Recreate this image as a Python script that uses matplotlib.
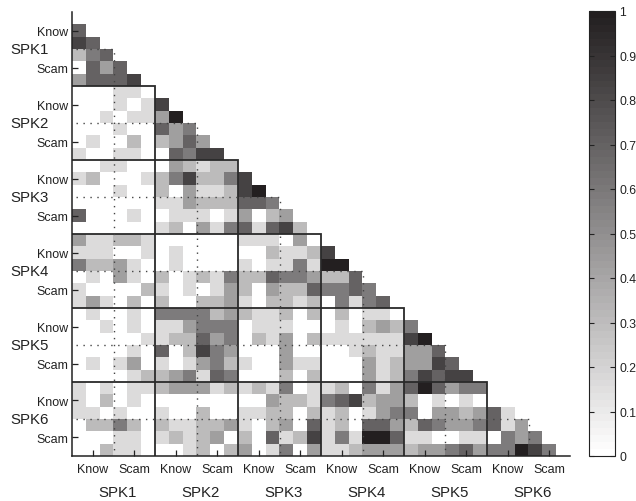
import matplotlib
matplotlib.use('Agg')
import matplotlib.pyplot as plt
import numpy as np
from matplotlib.colors import LinearSegmentedColormap

plt.rcParams['font.family'] = ['Liberation Sans', 'DejaVu Sans']

speakers = ['SPK1', 'SPK2', 'SPK3', 'SPK4', 'SPK5', 'SPK6']
sub_labels = ['Know', 'Scam']
cbar_ticks = [0, 0.1, 0.2, 0.3, 0.4, 0.5, 0.6, 0.7, 0.8, 0.9, 1]
cbar_labels = ['0', '0.1', '0.2', '0.3', '0.4', '0.5', '0.6', '0.7', '0.8', '0.9', '1']

# the cells only come in a few shades, so rows hold an index into this
level_values = [0, 0.16, 0.30, 0.43, 0.58, 0.70, 0.83, 1.0]

rows = [
    [5],
    [6, 5],
    [2, 4, 5],
    [0, 5, 3, 5],
    [3, 5, 5, 5, 6],
    [0, 0, 0, 1, 1, 0],
    [0, 0, 0, 1, 0, 1, 6],
    [0, 0, 1, 0, 1, 1, 3, 7],
    [0, 0, 0, 1, 0, 0, 5, 3, 4],
    [0, 1, 0, 0, 2, 0, 2, 3, 5, 3],
    [1, 0, 0, 1, 1, 0, 0, 5, 4, 6, 6],
    [0, 0, 1, 1, 0, 0, 0, 3, 2, 1, 2, 2],
    [1, 2, 0, 0, 0, 1, 2, 4, 6, 2, 2, 4, 6],
    [0, 0, 0, 1, 0, 0, 2, 0, 3, 1, 1, 2, 6, 7],
    [0, 0, 0, 0, 0, 0, 1, 1, 3, 2, 2, 2, 5, 5, 4],
    [5, 0, 0, 0, 1, 0, 0, 1, 1, 1, 0, 1, 3, 0, 2, 3],
    [0, 0, 0, 0, 0, 0, 1, 2, 0, 3, 1, 4, 5, 1, 5, 6, 2],
    [3, 1, 1, 2, 2, 1, 0, 0, 0, 0, 0, 0, 1, 1, 1, 0, 3, 0],
    [1, 1, 1, 0, 0, 1, 0, 1, 0, 0, 0, 0, 0, 0, 2, 1, 1, 2, 6],
    [4, 2, 2, 3, 1, 0, 0, 1, 0, 0, 0, 0, 1, 0, 1, 1, 4, 1, 7, 7],
    [0, 1, 0, 3, 1, 0, 2, 0, 1, 2, 1, 4, 2, 2, 5, 4, 4, 3, 2, 2, 5],
    [1, 0, 0, 0, 0, 2, 1, 0, 1, 0, 1, 3, 2, 0, 3, 2, 2, 5, 4, 4, 5, 4],
    [1, 3, 1, 0, 2, 0, 2, 0, 0, 2, 2, 3, 1, 0, 2, 2, 1, 2, 0, 4, 1, 4, 5],
    [0, 1, 0, 0, 1, 0, 4, 4, 4, 4, 2, 3, 2, 1, 1, 2, 0, 2, 0, 2, 0, 1, 1, 0],
    [0, 0, 1, 0, 1, 0, 1, 1, 3, 4, 4, 4, 0, 1, 1, 1, 0, 0, 0, 1, 0, 2, 3, 2, 4],
    [0, 0, 0, 0, 0, 1, 1, 2, 2, 5, 3, 4, 0, 2, 1, 3, 0, 2, 1, 1, 1, 1, 1, 1, 6, 7],
    [0, 0, 0, 0, 1, 0, 5, 0, 2, 6, 4, 3, 0, 0, 0, 3, 0, 0, 0, 0, 1, 2, 1, 1, 3, 3, 5],
    [0, 1, 0, 1, 3, 0, 1, 0, 1, 3, 4, 2, 1, 0, 0, 3, 1, 1, 0, 0, 0, 3, 1, 2, 3, 3, 6, 5],
    [0, 0, 0, 0, 1, 2, 2, 3, 4, 1, 5, 4, 0, 0, 0, 2, 0, 2, 0, 0, 0, 3, 1, 2, 4, 6, 5, 6, 6],
    [1, 0, 1, 0, 1, 1, 2, 3, 3, 3, 1, 2, 1, 2, 1, 4, 0, 1, 1, 2, 0, 4, 1, 3, 5, 7, 5, 3, 4, 4],
    [1, 0, 2, 0, 1, 0, 0, 0, 0, 0, 0, 0, 0, 0, 3, 2, 2, 1, 4, 5, 6, 2, 3, 3, 2, 0, 1, 0, 1, 0, 0],
    [1, 1, 0, 1, 0, 0, 1, 0, 0, 2, 0, 0, 1, 1, 2, 2, 0, 2, 1, 2, 0, 1, 3, 4, 4, 0, 3, 3, 2, 3, 5, 1],
    [0, 2, 2, 4, 2, 0, 2, 1, 1, 2, 2, 3, 1, 0, 2, 3, 0, 5, 1, 2, 0, 5, 5, 3, 2, 5, 4, 3, 3, 4, 5, 1, 3],
    [0, 0, 0, 1, 1, 0, 1, 2, 1, 2, 3, 0, 2, 0, 5, 1, 2, 6, 1, 4, 1, 7, 7, 5, 1, 1, 0, 0, 1, 1, 0, 4, 3, 4],
    [0, 0, 2, 1, 1, 0, 0, 0, 1, 2, 0, 2, 3, 0, 1, 4, 0, 3, 1, 1, 2, 3, 3, 3, 2, 3, 3, 4, 5, 3, 4, 4, 7, 6, 4],
]

n = 36
matrix = np.full((n, n), np.nan)
for r, row in enumerate(rows):
    for c, lev in enumerate(row):
        matrix[r + 1, c] = level_values[lev]

cmap = LinearSegmentedColormap.from_list('revgray', ['#ffffff', '#231f20'], N=64)
line_col = '#2a2a2a'

fig = plt.figure(figsize=(6.36, 5.02), dpi=100)
W, H = 636, 502
ax = fig.add_axes([72 / W, 1 - 457 / H, 498 / W, 444 / H])
im = ax.imshow(matrix, cmap=cmap, vmin=0, vmax=1, aspect='auto',
               interpolation='nearest', extent=(0, n, n, 0))

# solid block borders and dotted Know/Scam splits
for b in range(6, n, 6):
    ax.plot([0, b, b], [b, b, n], color=line_col, lw=1.3, solid_joinstyle='miter')
for m in range(3, n, 6):
    ax.plot([0.3, m, m], [m, m, n], color='#444444', lw=1.0, ls=(0, (1, 4)))

ax.set_xlim(0, n)
ax.set_ylim(n, 0)
for s in ['top', 'right']:
    ax.spines[s].set_visible(False)
for s in ['left', 'bottom']:
    ax.spines[s].set_linewidth(1.1)
    ax.spines[s].set_color('#222222')

tick_pos = [6 * k + p for k in range(6) for p in (1.5, 4.5)]
tick_lab = sub_labels * 6
ax.set_xticks(tick_pos)
ax.set_xticklabels(tick_lab, fontsize=9, color='#222222')
ax.set_yticks(tick_pos)
ax.set_yticklabels(tick_lab, fontsize=9, color='#222222')
ax.tick_params(axis='both', direction='in', length=4, width=0.9, color='#222222')
ax.tick_params(axis='x', pad=5)
ax.tick_params(axis='y', pad=3)

for k, name in enumerate(speakers):
    fig.text((76.5 + 13.83 * (6 * k + 3)) / W, 1 - 493 / H, name, fontsize=10.8,
             ha='center', va='center', color='#222222')
    fig.text(10 / W, 1 - (13 + 12.33 * (6 * k + 3)) / H, name, fontsize=10.8,
             ha='left', va='center', color='#222222')

cax = fig.add_axes([589 / W, 1 - 457 / H, 26 / W, 445 / H])
cb = fig.colorbar(im, cax=cax)
cb.set_ticks(cbar_ticks)
cb.set_ticklabels(cbar_labels)
cb.ax.tick_params(direction='in', length=3.5, width=0.8, left=True, right=True,
                  labelsize=8.8, pad=3, color='#222222', labelcolor='#222222')
cb.outline.set_linewidth(0.8)
cb.outline.set_edgecolor('#222222')

fig.savefig('out.png', dpi=100)
